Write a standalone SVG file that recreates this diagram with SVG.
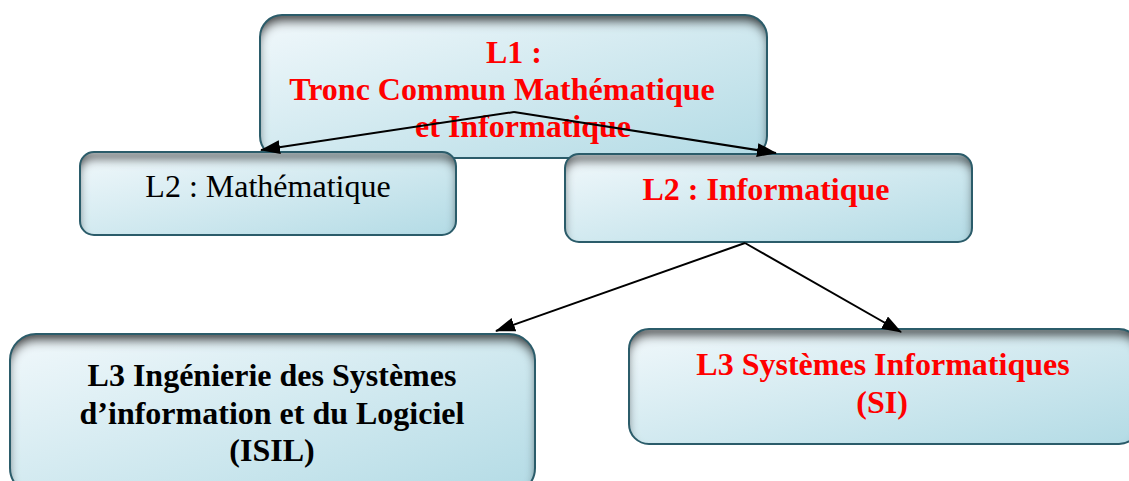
<svg xmlns="http://www.w3.org/2000/svg" width="1129" height="481" viewBox="0 0 1129 481">
<defs>
<linearGradient id="fillG" x1="0" y1="0" x2="1" y2="1">
<stop offset="0" stop-color="#f1f8fb"/>
<stop offset="1" stop-color="#b3dbe5"/>
</linearGradient>
<filter id="inner" x="-5%" y="-10%" width="110%" height="120%">
<feComponentTransfer in="SourceAlpha" result="inv"><feFuncA type="table" tableValues="1 0"/></feComponentTransfer>
<feGaussianBlur in="inv" stdDeviation="5" result="blur"/>
<feOffset in="blur" dy="8" result="off"/>
<feComposite in="off" in2="SourceAlpha" operator="in" result="sh"/>
<feFlood flood-color="#222" flood-opacity="0.95"/>
<feComposite in2="sh" operator="in" result="shc"/>
<feMerge><feMergeNode in="SourceGraphic"/><feMergeNode in="shc"/></feMerge>
</filter>
<marker id="arrow" viewBox="0 0 20 14" refX="19" refY="7" markerWidth="20" markerHeight="14" markerUnits="userSpaceOnUse" orient="auto">
<path d="M0,0 L20,7 L0,14 z" fill="#000"/>
</marker>
</defs>
<style>
.box{fill:url(#fillG);filter:url(#inner)}
.edge{fill:none;stroke:#2b5c6a;stroke-width:2}
.t{font-family:"Liberation Serif","Times New Roman",serif;font-size:32px;text-anchor:middle}
.b{font-weight:bold}
.red{fill:#ff0000}
.blk{fill:#000}
.conn{stroke:#000;stroke-width:2;fill:none;marker-end:url(#arrow)}
</style>
<rect width="1129" height="481" fill="#fff"/>
<g id="l1">
<rect class="box" x="260" y="15" width="507" height="143" rx="22"/>
<rect class="edge" x="260" y="15" width="507" height="143" rx="22"/>
<text class="t b red" x="514" y="63">L1 :</text>
<text class="t b red" x="502" y="100">Tronc Commun Mathématique</text>
<text class="t b red" x="523" y="137">et Informatique</text>
</g>
<g id="l2math">
<rect class="box" x="80" y="152" width="376" height="83" rx="14"/>
<rect class="edge" x="80" y="152" width="376" height="83" rx="14"/>
<text class="t blk" x="268" y="197">L2 : Mathématique</text>
</g>
<g id="l2info">
<rect class="box" x="565" y="154" width="407" height="88" rx="14"/>
<rect class="edge" x="565" y="154" width="407" height="88" rx="14"/>
<text class="t b red" x="766" y="200">L2 : Informatique</text>
</g>
<g id="l3isil">
<rect class="box" x="10" y="334" width="525" height="160" rx="26"/>
<rect class="edge" x="10" y="334" width="525" height="160" rx="26"/>
<text class="t b blk" x="272" y="386">L3 Ingénierie des Systèmes</text>
<text class="t b blk" x="272" y="424">d’information et du Logiciel</text>
<text class="t b blk" x="272" y="461">(ISIL)</text>
</g>
<g id="l3si">
<rect class="box" x="629" y="329" width="510" height="115" rx="20"/>
<rect class="edge" x="629" y="329" width="510" height="115" rx="20"/>
<text class="t b red" x="883" y="375">L3 Systèmes Informatiques</text>
<text class="t b red" x="882" y="413">(SI)</text>
</g>
<g id="connectors">
<line class="conn" x1="514" y1="112" x2="261" y2="150"/>
<line class="conn" x1="514" y1="112" x2="776" y2="153"/>
<line class="conn" x1="745" y1="243" x2="496" y2="331"/>
<line class="conn" x1="745" y1="243" x2="901" y2="332"/>
</g>
</svg>
